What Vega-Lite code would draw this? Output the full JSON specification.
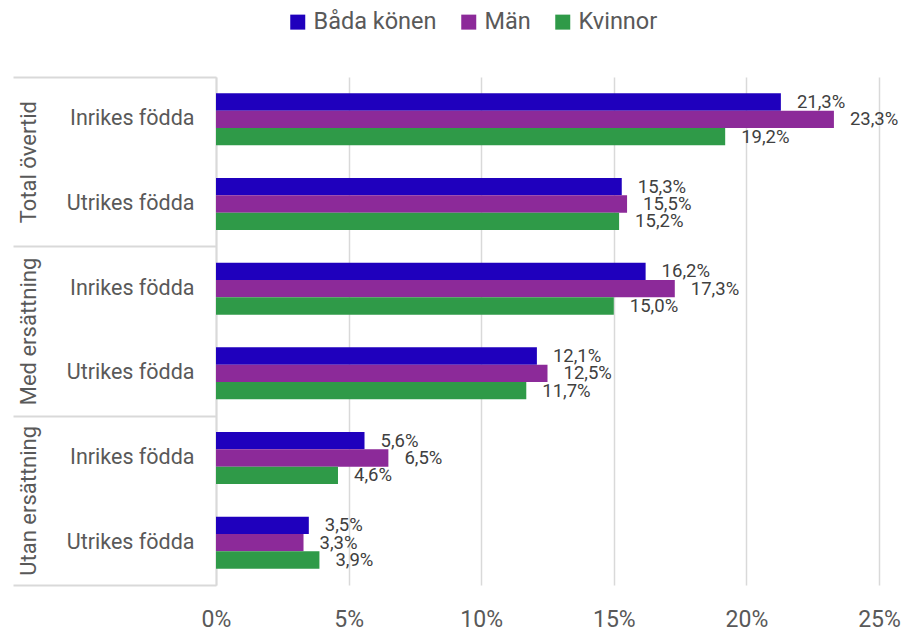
{
  "$schema": "https://vega.github.io/schema/vega-lite/v6.json",
  "width": 663,
  "height": 508,
  "padding": {"left": 12, "top": 10, "right": 5, "bottom": 5},
  "background": "white",
  "config": {
    "font": "Roboto",
    "view": {"stroke": null},
    "locale": {"number": {"decimal": ",", "thousands": "\u00a0", "grouping": [3], "currency": ["", " kr"]}},
    "axis": {"labelFont": "Roboto", "labelColor": "#595959"}
  },
  "data": {
    "values": [
      {"outer": "Total övertid", "inner": "Inrikes födda", "key": "Total övertid|Inrikes födda", "series": "Båda könen", "value": 0.213},
      {"outer": "Total övertid", "inner": "Inrikes födda", "key": "Total övertid|Inrikes födda", "series": "Män", "value": 0.233},
      {"outer": "Total övertid", "inner": "Inrikes födda", "key": "Total övertid|Inrikes födda", "series": "Kvinnor", "value": 0.192},
      {"outer": "Total övertid", "inner": "Utrikes födda", "key": "Total övertid|Utrikes födda", "series": "Båda könen", "value": 0.153},
      {"outer": "Total övertid", "inner": "Utrikes födda", "key": "Total övertid|Utrikes födda", "series": "Män", "value": 0.155},
      {"outer": "Total övertid", "inner": "Utrikes födda", "key": "Total övertid|Utrikes födda", "series": "Kvinnor", "value": 0.152},
      {"outer": "Med ersättning", "inner": "Inrikes födda", "key": "Med ersättning|Inrikes födda", "series": "Båda könen", "value": 0.162},
      {"outer": "Med ersättning", "inner": "Inrikes födda", "key": "Med ersättning|Inrikes födda", "series": "Män", "value": 0.173},
      {"outer": "Med ersättning", "inner": "Inrikes födda", "key": "Med ersättning|Inrikes födda", "series": "Kvinnor", "value": 0.150},
      {"outer": "Med ersättning", "inner": "Utrikes födda", "key": "Med ersättning|Utrikes födda", "series": "Båda könen", "value": 0.121},
      {"outer": "Med ersättning", "inner": "Utrikes födda", "key": "Med ersättning|Utrikes födda", "series": "Män", "value": 0.125},
      {"outer": "Med ersättning", "inner": "Utrikes födda", "key": "Med ersättning|Utrikes födda", "series": "Kvinnor", "value": 0.117},
      {"outer": "Utan ersättning", "inner": "Inrikes födda", "key": "Utan ersättning|Inrikes födda", "series": "Båda könen", "value": 0.056},
      {"outer": "Utan ersättning", "inner": "Inrikes födda", "key": "Utan ersättning|Inrikes födda", "series": "Män", "value": 0.065},
      {"outer": "Utan ersättning", "inner": "Inrikes födda", "key": "Utan ersättning|Inrikes födda", "series": "Kvinnor", "value": 0.046},
      {"outer": "Utan ersättning", "inner": "Utrikes födda", "key": "Utan ersättning|Utrikes födda", "series": "Båda könen", "value": 0.035},
      {"outer": "Utan ersättning", "inner": "Utrikes födda", "key": "Utan ersättning|Utrikes födda", "series": "Män", "value": 0.033},
      {"outer": "Utan ersättning", "inner": "Utrikes födda", "key": "Utan ersättning|Utrikes födda", "series": "Kvinnor", "value": 0.039}
    ]
  },
  "layer": [
    {
      "encoding": {
        "y": {
          "field": "key", "type": "nominal", "sort": null,
          "scale": {"paddingInner": 0.386, "paddingOuter": 0.193},
          "axis": {
            "title": null, "orient": "left", "ticks": false,
            "domain": true, "domainColor": "#d9d9d9", "domainWidth": 2,
            "labelFontSize": 21.5, "labelPadding": 22,
            "labelExpr": "split(datum.label, '|')[1]"
          }
        },
        "yOffset": {"field": "series", "type": "nominal", "sort": ["Båda könen", "Män", "Kvinnor"], "scale": {"paddingInner": 0}},
        "x": {
          "field": "value", "type": "quantitative",
          "scale": {"domain": [0, 0.25], "nice": false},
          "axis": {
            "title": null, "values": [0, 0.05, 0.1, 0.15, 0.2, 0.25], "format": ".0%",
            "domain": false, "ticks": false, "grid": true, "gridColor": "#d9d9d9", "gridWidth": 1.5,
            "labelFontSize": 23, "labelPadding": 23, "labelFlush": false
          }
        }
      },
      "layer": [
        {
          "mark": {"type": "bar"},
          "encoding": {
            "color": {
              "field": "series", "type": "nominal",
              "scale": {"domain": ["Båda könen", "Män", "Kvinnor"], "range": ["#1f00bd", "#8c2a99", "#2f9a48"]},
              "legend": {
                "title": null, "orient": "none", "direction": "horizontal",
                "legendX": 70, "legendY": -67,
                "symbolType": "square", "symbolSize": 225, "symbolStrokeWidth": 0,
                "labelFontSize": 23.5, "labelColor": "#595959", "labelFont": "Roboto",
                "columnPadding": 20, "labelOffset": 4
              }
            }
          }
        },
        {
          "mark": {"type": "text", "align": "left", "baseline": "middle", "dx": 16, "fontSize": 18.5, "color": "#404040"},
          "encoding": {
            "text": {"field": "value", "type": "quantitative", "format": ".1%"}
          }
        }
      ]
    },
    {
      "mark": {"type": "bar", "opacity": 0},
      "encoding": {
        "y": {
          "field": "outer", "type": "nominal", "sort": null,
          "scale": {"paddingInner": 0, "paddingOuter": 0},
          "axis": {
            "title": null, "orient": "left", "domain": false,
            "tickBand": "extent", "tickSize": 203, "tickColor": "#d9d9d9", "tickWidth": 2,
            "labelAngle": -90, "labelAlign": "center", "labelBaseline": "middle",
            "labelPadding": -15, "labelFontSize": 22
          }
        },
        "x": {"field": "value", "type": "quantitative"}
      }
    }
  ],
  "resolve": {"scale": {"y": "independent"}, "axis": {"y": "independent"}}
}
